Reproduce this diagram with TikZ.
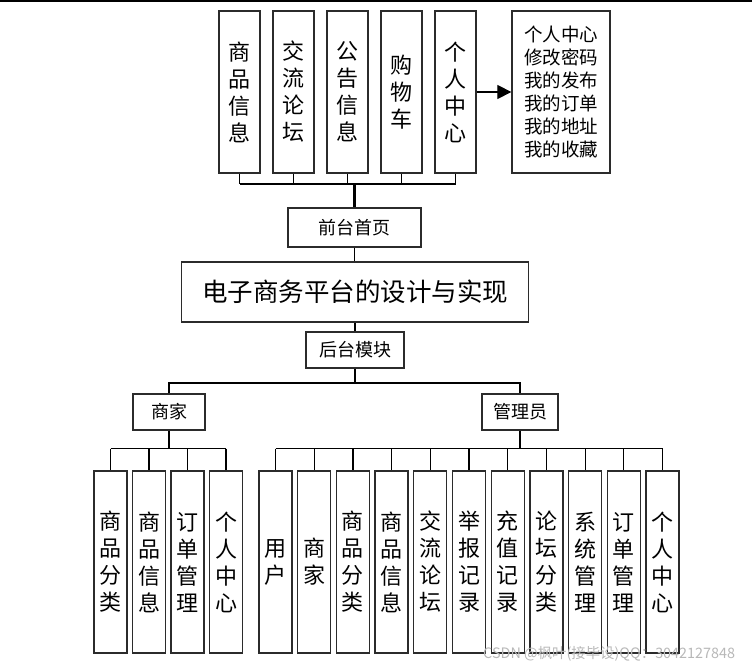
\documentclass[tikz,border=0pt]{standalone}
\usepackage{fontspec}
\newfontfamily\cjk{Noto Sans CJK SC}
\usetikzlibrary{arrows.meta}
\definecolor{boxc}{HTML}{2B2B2B}
\definecolor{wmc}{HTML}{B8B8B8}
\begin{document}
\begin{tikzpicture}[x=1pt,y=-1pt,
  box/.style={draw=boxc, line width=1.3pt, inner sep=0pt, align=center, font=\cjk\fontsize{18}{22}\selectfont},
  tall/.style={box, minimum width=41pt, minimum height=162pt, font=\cjk\fontsize{22}{27}\selectfont},
  low/.style={box, minimum width=33pt, minimum height=182pt, font=\cjk\fontsize{22}{27}\selectfont},
  conn/.style={line width=1.2pt, black},
  thickconn/.style={line width=2.2pt, black}]
\useasboundingbox (0,0) rectangle (752,668);
\draw[line width=1.6pt] (0,0.8) -- (752,0.8);
% top row
\node[tall] (t1) at (239.5,92) {商\\品\\信\\息};
\node[tall] (t2) at (293.5,92) {交\\流\\论\\坛};
\node[tall] (t3) at (347.5,92) {公\\告\\信\\息};
\node[tall] (t4) at (401.5,92) {购\\物\\车};
\node[tall] (t5) at (455.5,92) {个\\人\\中\\心};
\node[box, minimum width=98pt, minimum height=162pt, font=\cjk\fontsize{18.5}{23}\selectfont] (pc) at (561,92) {个人中心\\修改密码\\我的发布\\我的订单\\我的地址\\我的收藏};
\draw[conn, -{Triangle[length=14pt,width=14pt]}] (t5.east) -- (pc.west);
% front page
\node[box, minimum width=133pt, minimum height=39pt] (qt) at (354.5,227.5) {前台首页};
\coordinate (busT) at (354.5,184);
\foreach \i in {1,...,5} \draw[conn] (t\i.south) -- (t\i.south |- busT);
\draw[conn] (t1.south |- busT) -- (t5.south |- busT);
\draw[thickconn] (busT) -- (qt.north);
% main
\node[box, minimum width=347pt, minimum height=60pt, font=\cjk\fontsize{25.5}{30}\selectfont] (main) at (355,292) {电子商务平台的设计与实现};
\draw[conn] (qt.south) -- (qt.south |- main.north);
\node[box, minimum width=98pt, minimum height=36pt] (ht) at (355,350) {后台模块};
\draw[conn] (main.south -| ht.north) -- (ht.north);
\node[box, minimum width=72pt, minimum height=36pt] (sj) at (169,412) {商家};
\node[box, minimum width=76pt, minimum height=36pt] (gly) at (520,412) {管理员};
\coordinate (busM) at (355,383);
\draw[conn] (ht.south) -- (busM);
\draw[conn] (sj.north) -- (sj.north |- busM) -- (gly.north |- busM) -- (gly.north);
% merchant leaves
\node[low] (m1) at (110.5,562) {商\\品\\分\\类};
\node[low] (m2) at (149,562) {商\\品\\信\\息};
\node[low] (m3) at (187.5,562) {订\\单\\管\\理};
\node[low] (m4) at (226,562) {个\\人\\中\\心};
\coordinate (busS) at (169,448.7);
\draw[conn] (sj.south) -- (busS);
\draw[conn] (m1.north |- busS) -- (m4.north |- busS);
\foreach \i in {1,...,4} \draw[conn] (m\i.north |- busS) -- (m\i.north);
% admin leaves
\foreach \t [count=\i] in {用\\户, 商\\家, 商\\品\\分\\类, 商\\品\\信\\息, 交\\流\\论\\坛, 举\\报\\记\\录, 充\\值\\记\\录, 论\\坛\\分\\类, 系\\统\\管\\理, 订\\单\\管\\理, 个\\人\\中\\心}
  \node[low] (a\i) at ({275.5+(\i-1)*38.7},562) {\t};
\coordinate (busA) at (520,448.7);
\draw[conn] (gly.south) -- (busA);
\draw[conn] (a1.north |- busA) -- (a11.north |- busA);
\foreach \i in {1,...,11} \draw[conn] (a\i.north |- busA) -- (a\i.north);
% watermark
\node[anchor=west, inner sep=0pt, text=wmc, font=\cjk\fontsize{14.4}{16}\selectfont] (wm) at (483,654) {CSDN @枫叶(接毕设)QQ：3042127848};
\end{tikzpicture}
\end{document}
